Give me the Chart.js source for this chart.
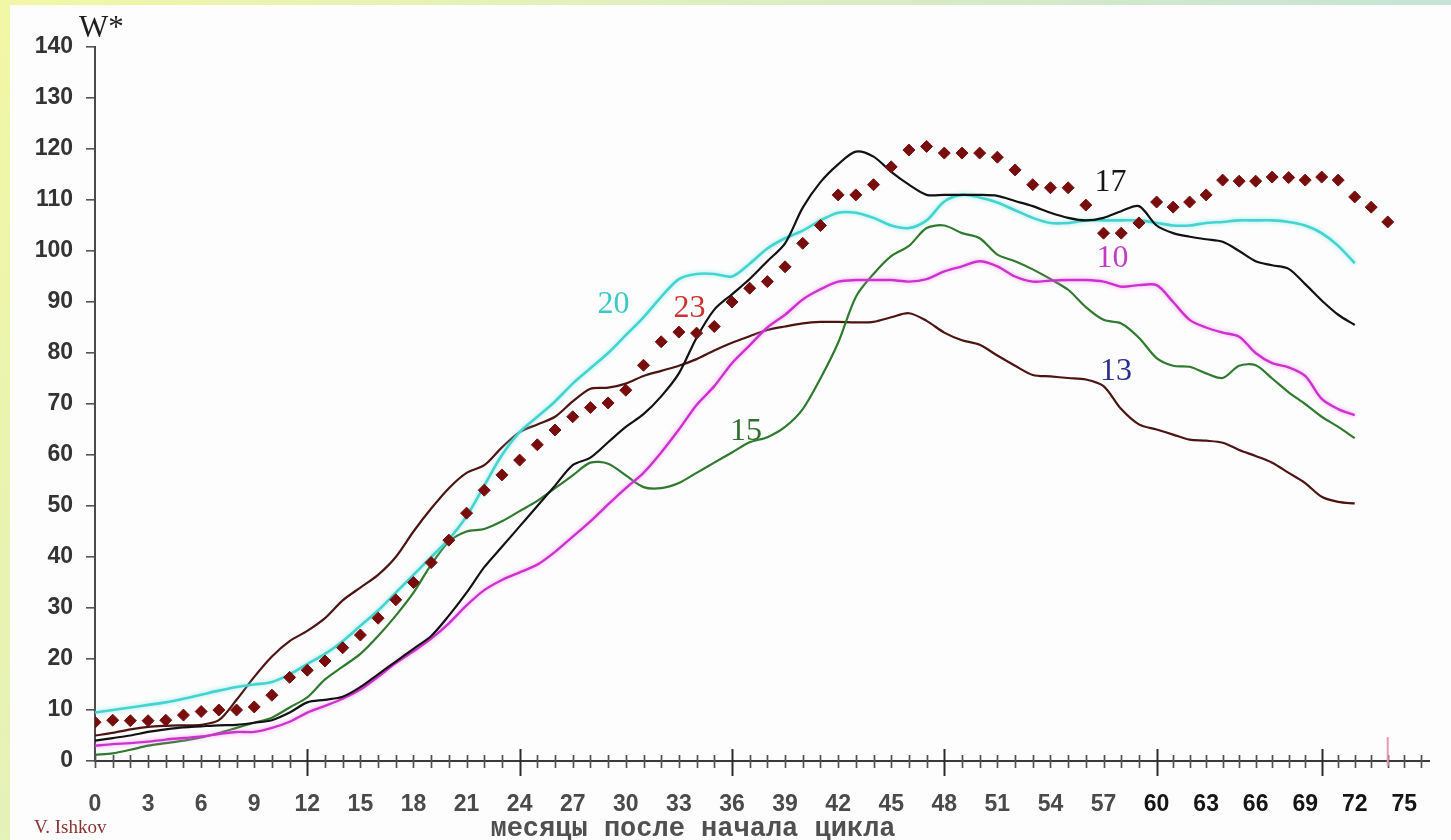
<!DOCTYPE html>
<html>
<head>
<meta charset="utf-8">
<script src="https://cdn.jsdelivr.net/npm/chart.js@4.4.1/dist/chart.umd.min.js"></script>
<style>
  html, body { margin: 0; padding: 0; }
  body {
    width: 1451px; height: 840px; overflow: hidden; position: relative;
    background: linear-gradient(120deg, #f1f7a4 0%, #e2f0bb 30%, #c6e3d6 75%, #bcdcdb 100%);
  }
  #panel { position: absolute; left: 10px; top: 5px; right: 0; bottom: 0; background: #fdfdfd; }
  #c { position: absolute; left: 0; top: 0; }
</style>
</head>
<body>
<div id="panel"></div>
<canvas id="c" width="1451" height="840"></canvas>
<script>
// Months after the start of each solar cycle
const months = [0,1,2,3,4,5,6,7,8,9,10,11,12,13,14,15,16,17,18,19,20,21,22,23,24,
  25,26,27,28,29,30,31,32,33,34,35,36,37,38,39,40,41,42,43,44,45,46,47,48,49,
  50,51,52,53,54,55,56,57,58,59,60,61,62,63,64,65,66,67,68,69,70,71,72,73,74];

// Smoothed sunspot number W* per month, cycles 10, 13, 15, 17, 20 (months 0..72)
const cycle10 = [3,3.3,3.5,3.8,4.2,4.5,4.8,5.3,5.7,5.7, 6.5,7.7,9.5,10.8,12.2,14,16.5,19.2,21.5,24,
  27,30.5,33.5,35.5,37,38.5,41,44,47,50.3, 53.5,56.5,60.5,65,69.8,73.5,78,81.5,85,87.5,
  90.5,92.5,94,94.3,94.3,94.3,94,94.5,96,97, 98,97,95,94,94.2,94.3,94.3,94,93,93.3,
  93.3,90,86.5,85,84,83.2,80,78,77.2,75.5, 71,69,67.8];
const cycle13 = [5,5.5,6.2,6.7,6.9,7,7.1,8,12,16.5, 20.5,23.5,25.5,28,31.5,34,36.5,40,45,49.5,
  53.5,56.5,58,61.5,64.5,66,67.5,70.5,73,73.2, 74,75.5,76.5,77.5,78.8,80.5,82,83.3,84.5,85.2,
  85.8,86.1,86.1,86,86.1,87,87.8,86.3,84,82.5, 81.6,79.5,77.5,75.7,75.4,75.1,74.8,73.5,69,66,
  65,64,63,62.8,62.4,61,59.8,58.5,56.5,54.5, 51.8,50.8,50.5];
const cycle15 = [1.2,1.5,2.2,3,3.5,4,4.6,5.5,6.5,7.5, 8.5,10.5,12.5,16,18.5,21,24.5,28.5,33,38.5,
  43,45,45.5,47,49,51,53.5,56,58.5,58.3, 56,53.7,53.5,54.5,56.5,58.5,60.5,62.5,63.5,65.5,
  69,75,82,91,95.5,99,101,104.5,105,103.5, 102.5,99.3,98,96.4,94.5,92.4,89,86.5,85.8,83,
  79,77.5,77.3,76,75.1,77.5,77.6,75,72.3,70, 67.5,65.5,63.3];
const cycle17 = [4,4.5,5,5.7,6.2,6.6,6.8,7,7.1,7.5, 8,9.5,11.5,12,12.6,14.5,17,19.5,22,24.5,
  28.5,33,38,42,46,50,54,58,59.5,62.5, 65.5,68,71.5,76,83,88.5,91.5,94.5,98,101.5,
  108.5,113.5,117,119.5,118.5,115.5,113,111,111,111, 111,110.8,109.8,108.8,107.5,106.5,106,106.5,107.8,108.8,
  105,103.5,102.8,102.3,101.8,100,98,97.2,96.5,93.5, 90.3,87.5,85.5];
const cycle20 = [9.5,10,10.5,11,11.5,12.2,13,13.8,14.5,15, 15.5,17,19,21,23.5,26.5,29.5,33,36.5,40,
  43.5,48,54,60,64.5,67.5,70.5,74,77,80, 83.5,87,91,94.5,95.5,95.5,95,97.5,100.5,102.5,
  104,106,107.5,107.5,106.5,105,104.5,106,109.7,111, 110.5,109.5,108,106.5,105.5,105.5,106,106,106,106,
  105.5,105,105,105.5,105.7,106,106,106,105.7,105, 103.5,101,97.6];
// Current cycle 23, months 0..74
const cycle23 = [7.6,8,7.9,7.9,8,9,9.7,10,10,10.6, 12.9,16.4,17.8,19.6,22.2,24.7,28,31.6,35,38.9,
  43.3,48.6,53.1,56.1,59,62,64.9,67.5,69.3,70.2, 72.7,77.6,82.2,84.1,83.9,85.2,90,92.7,94,96.9,
  101.5,105,111,111,113,116.5,119.8,120.5,119.2,119.2, 119.2,118.4,115.9,113,112.4,112.4,109,103.5,103.5,105.5,
  109.6,108.6,109.6,111,113.9,113.7,113.7,114.5,114.4,113.9, 114.5,113.9,110.6,108.6,105.7];

// Tick labels of the month axis and the W* axis
const monthTickLabels = [0,3,6,9,12,15,18,21,24,27,30,33,36,39,42,45,48,51,54,57,60,63,66,69,72,75];
const wTickLabels = [0,10,20,30,40,50,60,70,80,90,100,110,120,130,140];
const longTickMonths = [12,24,36,48,60,70];
const markedMonth = 74;

// Series captions: text, month, W*, colour
const captions = [
  ['20', 29.3, 89.4, '#3cc9c6'],
  ['23', 33.6, 88.8, '#cc3333'],
  ['17', 57.4, 113.4, '#151515'],
  ['10', 57.5, 98.6, '#c23cc2'],
  ['15', 36.8, 64.6, '#2f6f2f'],
  ['13', 57.7, 76.3, '#2b2f8a']
];

// Month axis: the part after month 60 is drawn slightly compressed
const BREAK = 60, TAIL = 0.933;
const warp = v => v <= BREAK ? v : BREAK + (v - BREAK) * TAIL;
const unwarp = w => w <= BREAK ? w : BREAK + (w - BREAK) / TAIL;

class MonthScale extends Chart.LinearScale {
  getPixelForValue(value) {
    if (value === null || value === undefined) return NaN;
    const a = warp(this.min), b = warp(this.max);
    return this.getPixelForDecimal((warp(value) - a) / (b - a));
  }
  getValueForPixel(pixel) {
    const a = warp(this.min), b = warp(this.max);
    return unwarp(a + this.getDecimalForPixel(pixel) * (b - a));
  }
}
MonthScale.id = 'month';
MonthScale.defaults = {};
Chart.register(MonthScale);

const points = arr => arr.map((v, i) => ({ x: months[i], y: v }));

// Tick marks crossing the month axis
const monthTicks = {
  id: 'monthTicks',
  afterDraw(chart) {
    const ctx = chart.ctx, xs = chart.scales.x, y0 = chart.scales.y.getPixelForValue(0);
    ctx.save();
    for (let m = 0; m <= 76; m++) {
      const px = Math.round(xs.getPixelForValue(m)) + 0.5;
      const long = longTickMonths.includes(m);
      ctx.strokeStyle = long ? '#2a2a2a' : '#505050';
      ctx.lineWidth = long ? 2 : 1.7;
      ctx.beginPath();
      ctx.moveTo(px, y0 - (long ? 12 : 6));
      ctx.lineTo(px, y0 + (long ? 15 : 7));
      ctx.stroke();
    }
    const pm = xs.getPixelForValue(markedMonth);
    ctx.strokeStyle = '#ec9aae';
    ctx.lineWidth = 2;
    ctx.beginPath();
    ctx.moveTo(pm, y0 - 24);
    ctx.lineTo(pm, y0 + 5);
    ctx.stroke();
    ctx.restore();
  }
};

// Soft halo under the magenta and cyan curves
const halo = {
  id: 'halo',
  beforeDatasetDraw(chart, args) {
    const ds = chart.data.datasets[args.index];
    chart.ctx.save();
    if (ds.haloColor) {
      chart.ctx.shadowColor = ds.haloColor;
      chart.ctx.shadowBlur = 4;
    }
  },
  afterDatasetDraw(chart) { chart.ctx.restore(); }
};

// Axis caption, author line and series numbers
const texts = {
  id: 'texts',
  afterDraw(chart) {
    const ctx = chart.ctx, xs = chart.scales.x, ys = chart.scales.y;
    ctx.save();
    ctx.textBaseline = 'middle';
    ctx.textAlign = 'center';
    ctx.font = '32px "Liberation Serif"';
    for (const [t, m, w, col] of captions) {
      ctx.fillStyle = col;
      ctx.fillText(t, xs.getPixelForValue(m), ys.getPixelForValue(w));
    }
    ctx.textAlign = 'left';
    ctx.fillStyle = '#1e1e1e';
    ctx.font = '31px "Liberation Serif"';
    ctx.fillText('W*', 79, 29);
    ctx.fillStyle = '#8a3434';
    ctx.font = '19px "Liberation Serif"';
    ctx.fillText('V. Ishkov', 34, 828);
    ctx.textAlign = 'center';
    ctx.fillStyle = '#505050';
    ctx.font = 'bold 27px "Liberation Mono"';
    ctx.fillText('месяцы после начала цикла', 693, 829);
    ctx.restore();
  }
};

new Chart(document.getElementById('c'), {
  type: 'line',
  data: {
    datasets: [
      { label: '23', data: points(cycle23), showLine: false, pointStyle: 'rectRot',
        pointRadius: 6, backgroundColor: '#780d0d', borderColor: '#780d0d', borderWidth: 1 },
      { label: '17', data: points(cycle17), borderColor: '#121212', borderWidth: 2.2, pointRadius: 0, tension: 0.3 },
      { label: '20', data: points(cycle20), borderColor: '#45d3cf', borderWidth: 2.6, pointRadius: 0, tension: 0.3,
        haloColor: 'rgba(120,230,225,0.8)' },
      { label: '10', data: points(cycle10), borderColor: '#cc33cc', borderWidth: 2.4, pointRadius: 0, tension: 0.3,
        haloColor: 'rgba(240,130,240,0.8)' },
      { label: '15', data: points(cycle15), borderColor: '#2f7a2f', borderWidth: 2.2, pointRadius: 0, tension: 0.3 },
      { label: '13', data: points(cycle13), borderColor: '#4d1414', borderWidth: 2.2, pointRadius: 0, tension: 0.3 }
    ]
  },
  options: {
    responsive: false,
    animation: false,
    devicePixelRatio: 1,
    layout: { padding: { top: 47, right: 5, left: 0, bottom: 0 } },
    plugins: { legend: { display: false }, tooltip: { enabled: false } },
    scales: {
      x: {
        type: 'month',
        min: 0,
        max: 76.5,
        afterFit: s => { s.height = 79; },
        grid: { display: false },
        border: { display: true, color: '#3a3a3a', width: 2 },
        ticks: {
          stepSize: 1,
          autoSkip: false,
          maxRotation: 0,
          padding: 22,
          callback: v => monthTickLabels.includes(v) ? String(v) : '',
          font: { family: 'Liberation Sans', size: 23, weight: 'bold' },
          color: c => (c.tick && c.tick.value >= 60) ? '#151515' : '#4a4a4a'
        }
      },
      y: {
        min: 0,
        max: 140,
        afterFit: s => { s.width = 95; },
        grid: { drawOnChartArea: false, drawTicks: true, tickLength: 9, color: '#555', lineWidth: 1.6 },
        border: { display: true, color: '#4a4a4a', width: 2 },
        ticks: {
          stepSize: 10,
          padding: 13,
          callback: v => wTickLabels.includes(v) ? String(v) : '',
          font: { family: 'Liberation Sans', size: 23, weight: 'bold' },
          color: '#333'
        }
      }
    }
  },
  plugins: [halo, monthTicks, texts]
});
</script>
</body>
</html>
